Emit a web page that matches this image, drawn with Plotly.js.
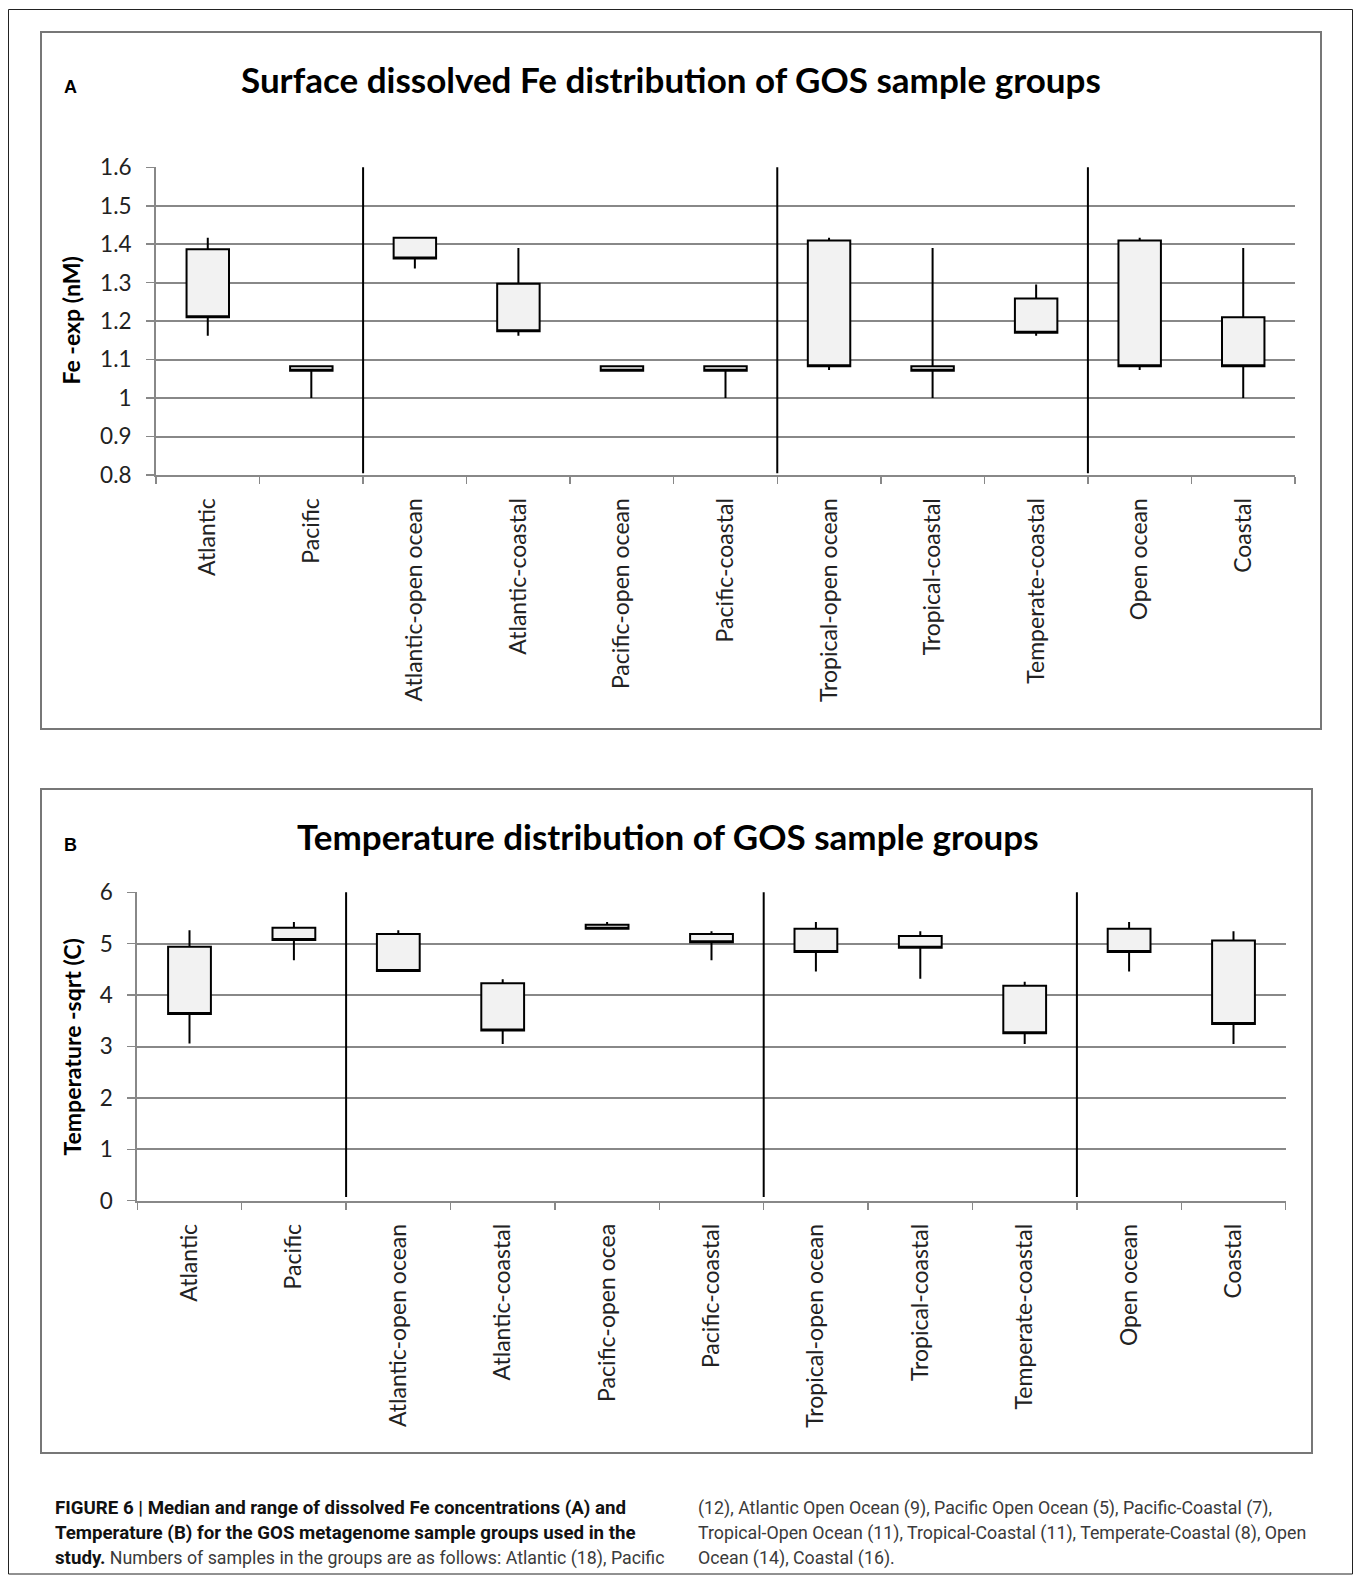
<!DOCTYPE html>
<html><head><meta charset="utf-8">
<script src="https://cdn.plot.ly/plotly-3.0.1.min.js"></script>
<style>html,body{margin:0;padding:0;background:#fff}</style>
</head><body><div id="chart" style="width:1354px;height:1575px"></div>
<script>
// ---- Data (Panel A: surface dissolved Fe, nM) ----
const feCategories = ["Atlantic","Pacific","Atlantic-open ocean","Atlantic-coastal","Pacific-open ocean","Pacific-coastal","Tropical-open ocean","Tropical-coastal","Temperate-coastal","Open ocean","Coastal"];
const feMin  = [1.162, 1.000, 1.337, 1.162, 1.071, 1.000, 1.073, 1.000, 1.162, 1.073, 1.000];
const feLowBox  = [1.210, 1.071, 1.363, 1.174, 1.071, 1.071, 1.083, 1.071, 1.170, 1.083, 1.083];
const feHighBox = [1.387, 1.083, 1.417, 1.297, 1.083, 1.083, 1.410, 1.083, 1.259, 1.410, 1.210];
const feMax  = [1.417, 1.083, 1.417, 1.390, 1.083, 1.083, 1.417, 1.390, 1.295, 1.417, 1.390];
const feTicks = [0.8, 0.9, 1.0, 1.1, 1.2, 1.3, 1.4, 1.5, 1.6];

// ---- Data (Panel B: temperature, sqrt C) ----
const tempCategories = ["Atlantic","Pacific","Atlantic-open ocean","Atlantic-coastal","Pacific-open ocea","Pacific-coastal","Tropical-open ocean","Tropical-coastal","Temperate-coastal","Open ocean","Coastal"];
const tempMin  = [3.06, 4.68, 4.47, 3.05, 5.27, 4.68, 4.46, 4.32, 3.05, 4.46, 3.05];
const tempLowBox  = [3.63, 5.07, 4.47, 3.31, 5.29, 5.03, 4.84, 4.92, 3.26, 4.84, 3.44];
const tempHighBox = [4.94, 5.31, 5.19, 4.23, 5.37, 5.19, 5.29, 5.15, 4.18, 5.29, 5.06];
const tempMax  = [5.26, 5.42, 5.26, 4.31, 5.42, 5.24, 5.42, 5.24, 4.26, 5.42, 5.24];
const tempTicks = [0, 1, 2, 3, 4, 5, 6];

// group separators (between category groups)
const groupBreaks = [1.5, 5.5, 8.5];

// ---- Layout helpers ----
const W = 1354, H = 1575;
const px = x => x / W;
const py = y => 1 - y / H;

const boxStyle = {
  type: 'box', boxpoints: false, width: 0.41, whiskerwidth: 0,
  fillcolor: '#f2f2f2', line: {color: '#000', width: 2},
  hoverinfo: 'skip', showlegend: false
};

const traces = [
  Object.assign({}, boxStyle, {
    x: feCategories, q1: feLowBox, median: feLowBox, q3: feHighBox,
    lowerfence: feMin, upperfence: feMax, xaxis: 'x', yaxis: 'y'
  }),
  Object.assign({}, boxStyle, {
    x: tempCategories, q1: tempLowBox, median: tempLowBox, q3: tempHighBox,
    lowerfence: tempMin, upperfence: tempMax, xaxis: 'x2', yaxis: 'y2'
  })
];

const GRID = '#888888';
const xTickFont = {family: 'Lato, "Open Sans", sans-serif', size: 23, color: '#222'};
const yTickFont = {family: 'Lato, "Open Sans", sans-serif', size: 22.5, color: '#222'};

function xAxis(domain, cats, anchor) {
  return {
    domain: domain, type: 'category', categoryorder: 'array', categoryarray: cats, anchor: anchor,
    range: [-0.5, cats.length - 0.5], tickson: 'boundaries',
    ticks: 'outside', ticklen: 7, tickwidth: 1.5, tickcolor: GRID,
    showline: true, linecolor: GRID, linewidth: 2,
    showgrid: false, zeroline: false, tickangle: -90,
    tickfont: xTickFont, ticklabelstandoff: 12, fixedrange: true
  };
}
function yAxis(domain, range, ticks, anchor) {
  return {
    domain: domain, range: range, tickvals: ticks, anchor: anchor,
    ticks: 'outside', ticklen: 8, tickwidth: 1.5, tickcolor: GRID,
    showline: true, linecolor: GRID, linewidth: 2,
    showgrid: true, gridcolor: GRID, gridwidth: 2, zeroline: false,
    tickfont: yTickFont, ticklabelstandoff: 10, fixedrange: true
  };
}

const shapes = [
  // outer figure border
  {type: 'rect', xref: 'paper', yref: 'paper', x0: px(8.5), x1: px(1352.5), y0: py(1574), y1: py(9.5), line: {color: '#222', width: 1}},
  // panel borders
  {type: 'rect', xref: 'paper', yref: 'paper', x0: px(41), x1: px(1321), y0: py(729), y1: py(32), line: {color: '#777', width: 2}},
  {type: 'rect', xref: 'paper', yref: 'paper', x0: px(41), x1: px(1312), y0: py(1453), y1: py(789), line: {color: '#777', width: 2}}
];
groupBreaks.forEach(b => {
  shapes.push({type: 'line', xref: 'x', yref: 'y domain', x0: b, x1: b, y0: 0.006, y1: 1, line: {color: '#000', width: 2}});
  shapes.push({type: 'line', xref: 'x2', yref: 'y2 domain', x0: b, x1: b, y0: 0.012, y1: 1, line: {color: '#000', width: 2}});
});

const capFamily = '"Liberation Sans Narrow", "Arial Narrow", "Roboto", sans-serif';
const capFont = {family: capFamily, size: 17.8, color: '#3a3a3a'};
const B = t => '<b style="color:#111;font-size:18.7px">' + t + '</b>';
const capLeft = [
  B('FIGURE 6 | Median and range of dissolved Fe concentrations (A) and'),
  B('Temperature (B) for the GOS metagenome sample groups used in the'),
  B('study.') + ' Numbers of samples in the groups are as follows: Atlantic (18), Pacific'
];
const capRight = [
  '(12), Atlantic Open Ocean (9), Pacific Open Ocean (5), Pacific-Coastal (7),',
  'Tropical-Open Ocean (11), Tropical-Coastal (11), Temperate-Coastal (8), Open',
  'Ocean (14), Coastal (16).'
];
const capY = [1508, 1533, 1558];

const titleFont = {family: 'Lato, "Open Sans", sans-serif', size: 35, weight: 'bold', color: '#000'};
const axTitleFont = {family: 'Lato, "Open Sans", sans-serif', size: 23, weight: 'bold', color: '#000'};
const letterFont = {family: '"Liberation Sans", Arial, sans-serif', size: 18, weight: 'bold', color: '#000'};

const annotations = [
  {text: 'Surface dissolved Fe distribution of GOS sample groups', x: px(671), y: py(79), font: titleFont},
  {text: 'Temperature distribution of GOS sample groups', x: px(668), y: py(836), font: titleFont},
  {text: 'A', x: px(70), y: py(87), font: letterFont},
  {text: 'B', x: px(70), y: py(845), font: letterFont},
  {text: 'Fe -exp (nM)', x: px(70.5), y: py(321), textangle: -90, font: axTitleFont},
  {text: 'Temperature -sqrt (C)', x: px(71.5), y: py(1047), textangle: -90, font: axTitleFont}
].map(a => Object.assign({xref: 'paper', yref: 'paper', xanchor: 'center', yanchor: 'middle', showarrow: false}, a));

capLeft.forEach((t, i) => annotations.push({text: t, x: px(53), y: py(capY[i]), xref: 'paper', yref: 'paper', xanchor: 'left', yanchor: 'middle', showarrow: false, font: capFont}));
capRight.forEach((t, i) => annotations.push({text: t, x: px(696), y: py(capY[i]), xref: 'paper', yref: 'paper', xanchor: 'left', yanchor: 'middle', showarrow: false, font: capFont}));

const layout = {
  width: W, height: H, margin: {l: 0, r: 0, t: 0, b: 0},
  paper_bgcolor: '#fff', plot_bgcolor: '#fff', showlegend: false,
  boxmode: 'overlay',
  xaxis: xAxis([px(156), px(1295)], feCategories, 'y'),
  yaxis: yAxis([py(475), py(167.3)], [0.8, 1.6], feTicks, 'x'),
  xaxis2: xAxis([px(137.3), px(1285.7)], tempCategories, 'y2'),
  yaxis2: yAxis([py(1200.7), py(892.3)], [0, 6], tempTicks, 'x2'),
  shapes: shapes, annotations: annotations
};

Plotly.newPlot('chart', traces, layout, {staticPlot: true, displayModeBar: false});
</script>
</body></html>
